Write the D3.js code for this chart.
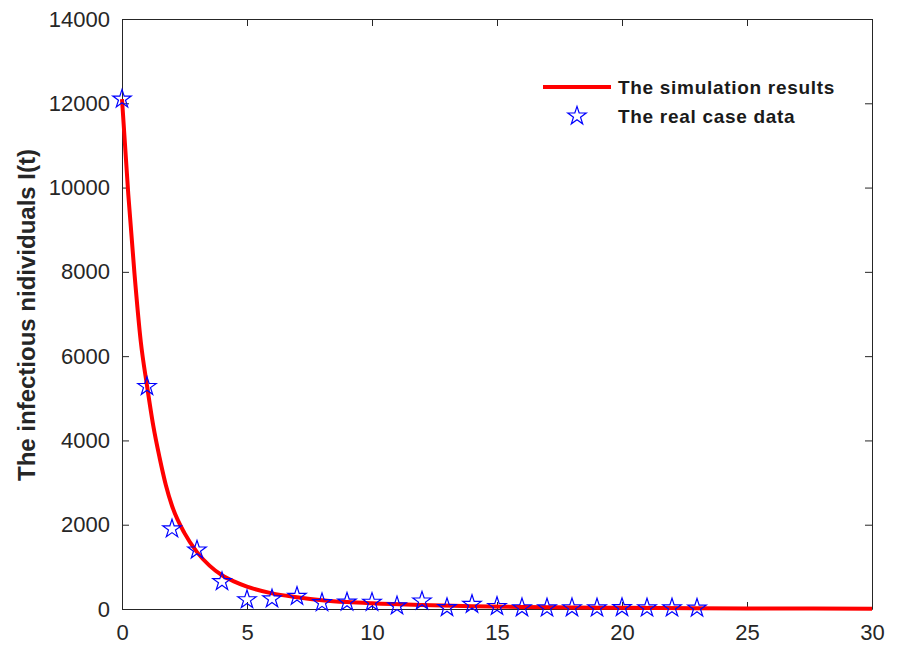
<!DOCTYPE html>
<html>
<head>
<meta charset="utf-8">
<script src="https://cdn.jsdelivr.net/npm/d3@7"></script>
<style>
    body { margin: 0; background: #fff; }
    svg { display: block; }
    .tick text { font-family: "Liberation Sans", Arial, sans-serif; font-size: 22px; fill: #262626; }
</style>
</head>
<body>
<div id="chart"></div>
<script>
// simulation curve (t, I)
const simT = [0, 0.25, 0.5, 0.75, 1, 1.25, 1.5, 1.75, 2, 2.5, 3, 3.5, 4, 4.5, 5, 6, 7, 8, 9, 10, 12, 14, 16, 18, 20, 25, 30];
const simI = [12100, 9850, 7950, 6350, 5300, 4350, 3600, 2950, 2450, 1800, 1350, 1030, 800, 650, 530, 370, 280, 210, 165, 135, 95, 68, 48, 36, 27, 14, 6];

// real case data
const realDays = [0, 1, 2, 3, 4, 5, 6, 7, 8, 9, 10, 11, 12, 13, 14, 15, 16, 17, 18, 19, 20, 21, 22, 23];
const realCases = [12100, 5280, 1900, 1400, 650, 220, 240, 300, 150, 165, 160, 75, 190, 35, 110, 60, 30, 25, 30, 25, 35, 25, 25, 20];

const xTicks = [0, 5, 10, 15, 20, 25, 30];
const yTicks = [0, 2000, 4000, 6000, 8000, 10000, 12000, 14000];

const W = 898, H = 648;
const margin = { top: 19, right: 26, bottom: 39, left: 122 };
const width = W - margin.left - margin.right;
const height = H - margin.top - margin.bottom;

const svg = d3.select("#chart").append("svg")
    .attr("width", W)
    .attr("height", H);

const g = svg.append("g")
    .attr("transform", `translate(${margin.left},${margin.top})`);

const x = d3.scaleLinear().domain([0, 30]).range([0, width]);
const y = d3.scaleLinear().domain([0, 14000]).range([height, 0]);

const axisColor = "#262626";

// axes with inward ticks, box style
g.append("g")
    .attr("transform", `translate(0,${height})`)
    .call(d3.axisBottom(x).tickValues(xTicks).tickSizeInner(-7).tickSizeOuter(0).tickPadding(15).tickFormat(d3.format("d")));

g.append("g")
    .call(d3.axisLeft(y).tickValues(yTicks).tickSizeInner(-7).tickSizeOuter(0).tickPadding(12).tickFormat(d3.format("d")));

g.append("g")
    .call(d3.axisTop(x).tickValues(xTicks).tickSizeInner(-7).tickSizeOuter(0).tickFormat(""));

g.append("g")
    .attr("transform", `translate(${width},0)`)
    .call(d3.axisRight(y).tickValues(yTicks).tickSizeInner(-7).tickSizeOuter(0).tickFormat(""));

g.selectAll(".domain, .tick line").attr("stroke", axisColor);

// simulation line
const simData = simT.map((t, i) => ({ t: t, v: simI[i] }));
const line = d3.line()
    .x(d => x(d.t))
    .y(d => y(d.v))
    .curve(d3.curveMonotoneX);

g.append("path")
    .datum(simData)
    .attr("d", line)
    .attr("fill", "none")
    .attr("stroke", "#ff0000")
    .attr("stroke-width", 4);

// real data stars
const star = d3.symbol().type(d3.symbolStar).size(105);
const realData = realDays.map((d, i) => ({ t: d, v: realCases[i] }));

g.selectAll(".star")
    .data(realData)
    .enter().append("path")
    .attr("class", "star")
    .attr("d", star)
    .attr("transform", d => `translate(${x(d.t)},${y(d.v)})`)
    .attr("fill", "none")
    .attr("stroke", "#0000ff")
    .attr("stroke-width", 1.2);

// y label
svg.append("text")
    .attr("transform", "translate(35,315) rotate(-90)")
    .attr("text-anchor", "middle")
    .style("font-family", "'Liberation Sans', Arial, sans-serif")
    .style("font-weight", "bold")
    .style("font-size", "24px")
    .style("fill", "#262626")
    .text("The infectious nidividuals I(t)");

// legend
const legend = svg.append("g");
legend.append("line")
    .attr("x1", 543).attr("x2", 611)
    .attr("y1", 87).attr("y2", 87)
    .attr("stroke", "#ff0000")
    .attr("stroke-width", 4);
legend.append("path")
    .attr("d", star)
    .attr("transform", "translate(577,116)")
    .attr("fill", "none")
    .attr("stroke", "#0000ff")
    .attr("stroke-width", 1.2);

const legendText = ["The simulation results", "The real case data"];
legend.selectAll(".ltext")
    .data(legendText)
    .enter().append("text")
    .attr("class", "ltext")
    .attr("x", 618)
    .attr("y", (d, i) => 94 + i * 29)
    .style("font-family", "'Liberation Sans', Arial, sans-serif")
    .style("font-weight", "bold")
    .style("font-size", "19px")
    .style("letter-spacing", "0.7px")
    .style("fill", "#1a1a1a")
    .text(d => d);
</script>
</body>
</html>
